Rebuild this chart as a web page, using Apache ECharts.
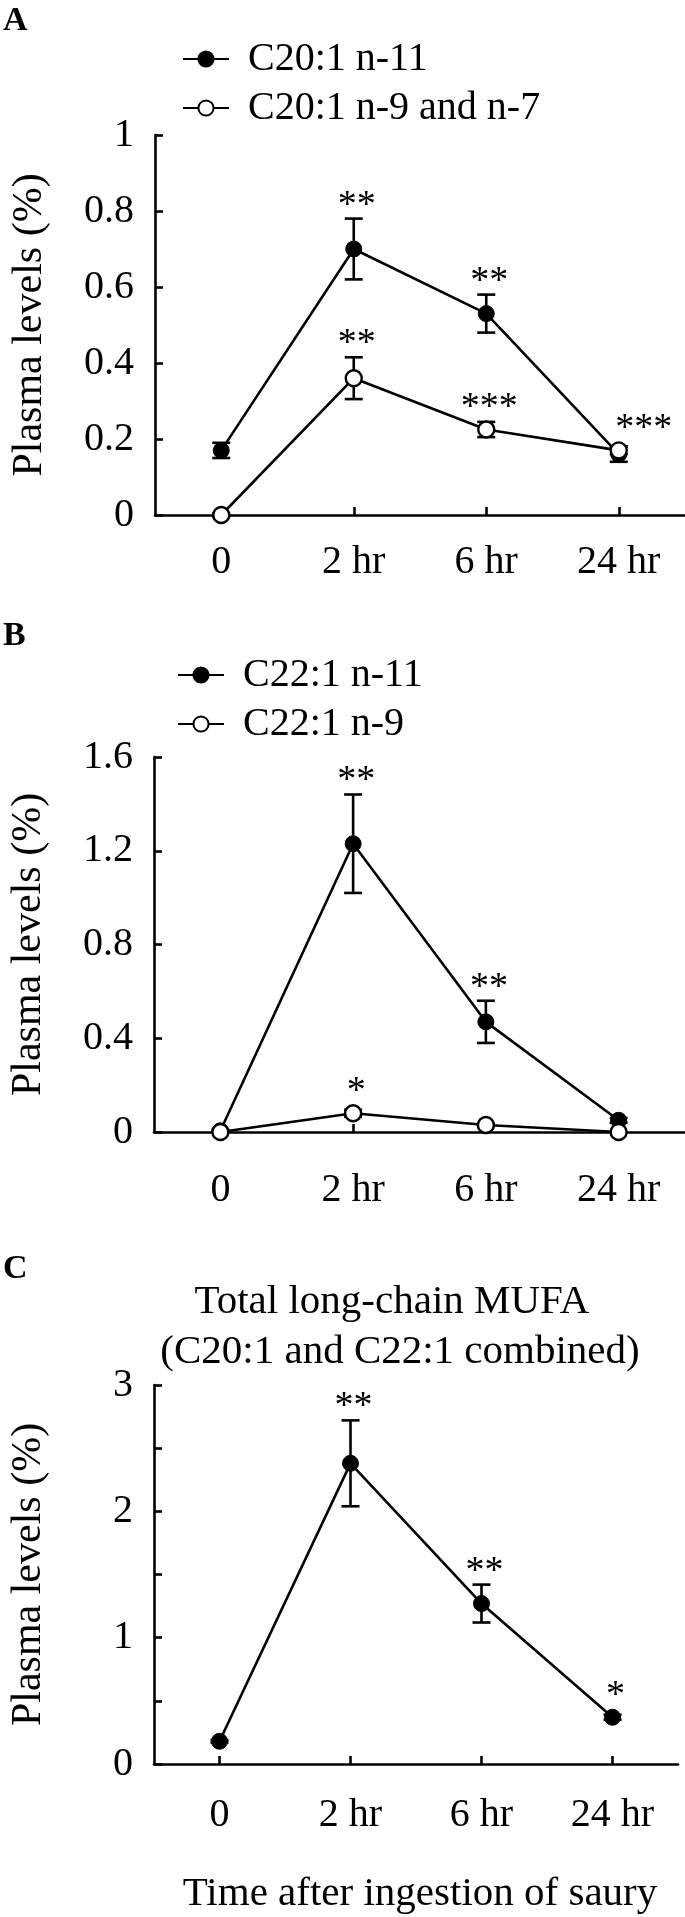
<!DOCTYPE html>
<html>
<head>
<meta charset="utf-8">
<script src="https://cdn.jsdelivr.net/npm/echarts@6/dist/echarts.min.js"></script>
<style>
html,body{margin:0;padding:0;background:#fff;}
#chart{width:685px;height:1917px;}
</style>
</head>
<body>
<div id="chart"></div>
<script>
// ---------------- DATA ----------------
const categories = ['0', '2 hr', '6 hr', '24 hr'];

// Panel A
const aN11Name = 'C20:1 n-11';
const aN11Mean = [0.17, 0.70, 0.53, 0.16];
const aN11Err  = [0.02, 0.08, 0.05, 0.02];
const aN11Sig  = ['', '**', '**', ''];
const aN9Name  = 'C20:1 n-9 and n-7';
const aN9Mean  = [0.00, 0.36, 0.225, 0.17];
const aN9Err   = [0.005, 0.055, 0.02, 0.01];
const aN9Sig   = ['', '**', '***', '***'];
const aTicks   = [0, 0.2, 0.4, 0.6, 0.8, 1];

// Panel B
const bN11Name = 'C22:1 n-11';
const bN11Mean = [0.005, 1.23, 0.47, 0.05];
const bN11Err  = [0.005, 0.21, 0.09, 0.01];
const bN11Sig  = ['', '**', '**', ''];
const bN9Name  = 'C22:1 n-9';
const bN9Mean  = [0.0, 0.08, 0.03, 0.0];
const bN9Err   = [0.0, 0.015, 0.005, 0.0];
const bN9Sig   = ['', '*', '', ''];
const bTicks   = [0, 0.4, 0.8, 1.2, 1.6];

// Panel C
const cName  = 'Total long-chain MUFA';
const cMean  = [0.18, 2.38, 1.27, 0.37];
const cErr   = [0.01, 0.34, 0.15, 0.02];
const cSig   = ['', '**', '**', '*'];
const cTicks = [0, 1, 2, 3];

const yTitle = 'Plasma levels (%)';
const cTitle1 = 'Total long-chain MUFA';
const cTitle2 = '(C20:1 and C22:1 combined)';
const xTitle = 'Time after ingestion of saury';

// ---------------- STYLE ----------------
const FONT = "'Liberation Serif', 'Times New Roman', Times, serif";
const LW = 2.6;
const SYM = 16;
const FS = 40;

function lineSeries(gi, name, mean, filled) {
  return {
    type: 'line', name: name, xAxisIndex: gi, yAxisIndex: gi,
    data: mean, symbol: 'circle', symbolSize: SYM, showSymbol: true,
    clip: false, z: 3,
    lineStyle: { color: '#000', width: LW },
    itemStyle: filled ? { color: '#000', borderColor: '#000', borderWidth: 1 }
                      : { color: '#fff', borderColor: '#000', borderWidth: 2.4 },
    emphasis: { disabled: true }
  };
}
function errSeries(gi, mean, err) {
  return {
    type: 'custom', xAxisIndex: gi, yAxisIndex: gi, z: 2, clip: false,
    data: mean.map((m, i) => [i, m, err[i]]),
    encode: { x: 0, y: 1 },
    renderItem: function (params, api) {
      const x = api.value(0), m = api.value(1), e = api.value(2);
      if (!e) return null;
      const t = api.coord([x, m + e]);
      const b = api.coord([x, m - e]);
      const hw = 9;
      const st = { stroke: '#000', lineWidth: LW };
      return { type: 'group', children: [
        { type: 'line', shape: { x1: t[0], y1: t[1], x2: b[0], y2: b[1] }, style: st },
        { type: 'line', shape: { x1: t[0] - hw, y1: t[1], x2: t[0] + hw, y2: t[1] }, style: st },
        { type: 'line', shape: { x1: b[0] - hw, y1: b[1], x2: b[0] + hw, y2: b[1] }, style: st }
      ]};
    }
  };
}
function sigSeries(gi, mean, err, sig, shifts) {
  return {
    type: 'custom', xAxisIndex: gi, yAxisIndex: gi, z: 5, clip: false,
    data: mean.map((m, i) => [i, m, err[i]]),
    encode: { x: 0, y: 1 },
    renderItem: function (params, api) {
      const label = sig[params.dataIndex];
      if (!label) return null;
      const x = api.value(0), m = api.value(1), e = api.value(2);
      const p = api.coord([x, m]);
      const top = Math.min(api.coord([x, m + e])[1], p[1] - SYM / 2);
      const dx = (shifts && shifts[params.dataIndex]) || 0;
      return { type: 'text', x: p[0] + 3 + dx, y: top - 13,
        style: { text: label, fontSize: 38, fontFamily: FONT, fill: '#000',
                 align: 'center', verticalAlign: 'middle' } };
    }
  };
}

function xAxis(gi, margin) {
  return {
    type: 'category', gridIndex: gi, data: categories, boundaryGap: true,
    axisLine: { lineStyle: { color: '#000', width: LW } },
    axisTick: { show: true, inside: true, length: 8, alignWithLabel: true,
                lineStyle: { color: '#000', width: LW } },
    axisLabel: { fontSize: FS, fontFamily: FONT, color: '#000', margin: margin },
    splitLine: { show: false }
  };
}
function yAxis(gi, ticks, interval, fmt) {
  return {
    type: 'value', gridIndex: gi, min: ticks[0], max: ticks[ticks.length - 1],
    interval: interval,
    name: yTitle, nameLocation: 'middle', nameGap: 104,
    nameTextStyle: { fontSize: 42, fontFamily: FONT, color: '#000' },
    axisLine: { show: true, lineStyle: { color: '#000', width: LW } },
    axisTick: { show: true, inside: true, length: 8, lineStyle: { color: '#000', width: LW } },
    axisLabel: { fontSize: FS, fontFamily: FONT, color: '#000', margin: 21,
                 formatter: fmt || null },
    splitLine: { show: false }
  };
}

function legend(left, top, names) {
  return {
    orient: 'vertical', left: left, top: top, data: names,
    itemWidth: 46, itemHeight: 19, itemGap: 7, selectedMode: false,
    textStyle: { fontSize: FS, fontFamily: FONT, color: '#000', lineHeight: 42,
                 padding: [0, 0, 0, 14] }
  };
}

const chart = echarts.init(document.getElementById('chart'), null, { renderer: 'canvas' });
const option = {
  backgroundColor: '#fff',
  animation: false,
  grid: [
    { left: 155, top: 135, width: 530, height: 380 },
    { left: 153, top: 757, width: 532, height: 375 },
    { left: 149, top: 1385, width: 529, height: 379 }
  ],
  xAxis: [xAxis(0, 27), xAxis(1, 38), xAxis(2, 31)],
  yAxis: [
    yAxis(0, aTicks, 0.2),
    yAxis(1, bTicks, 0.4),
    yAxis(2, cTicks, 0.5, function (v) { return Math.abs(v - Math.round(v)) < 1e-9 ? String(Math.round(v)) : ''; })
  ],
  legend: [
    legend(177, 33, [aN11Name, aN9Name]),
    legend(172, 649, [bN11Name, bN9Name])
  ],
  graphic: [
    { type: 'text', left: 3, top: 4, style: { text: 'A', fontSize: 34, fontWeight: 'bold', fontFamily: FONT, fill: '#000' } },
    { type: 'text', left: 3, top: 619, style: { text: 'B', fontSize: 34, fontWeight: 'bold', fontFamily: FONT, fill: '#000' } },
    { type: 'text', left: 3, top: 1252, style: { text: 'C', fontSize: 34, fontWeight: 'bold', fontFamily: FONT, fill: '#000' } },
    { type: 'text', x: 392, y: 1302, style: { text: cTitle1, fontSize: 41, fontFamily: FONT, fill: '#000', align: 'center', verticalAlign: 'middle' } },
    { type: 'text', x: 400, y: 1352, style: { text: cTitle2, fontSize: 41, fontFamily: FONT, fill: '#000', align: 'center', verticalAlign: 'middle' } },
    { type: 'text', x: 420, y: 1894, style: { text: xTitle, fontSize: 41, fontFamily: FONT, fill: '#000', align: 'center', verticalAlign: 'middle' } }
  ],
  series: [
    errSeries(0, aN11Mean, aN11Err),
    errSeries(0, aN9Mean, aN9Err),
    lineSeries(0, aN11Name, aN11Mean, true),
    lineSeries(0, aN9Name, aN9Mean, false),
    sigSeries(0, aN11Mean, aN11Err, aN11Sig),
    sigSeries(0, aN9Mean, aN9Err, aN9Sig, [0, 0, 0, 22]),

    errSeries(1, bN11Mean, bN11Err),
    errSeries(1, bN9Mean, bN9Err),
    lineSeries(1, bN11Name, bN11Mean, true),
    lineSeries(1, bN9Name, bN9Mean, false),
    sigSeries(1, bN11Mean, bN11Err, bN11Sig),
    sigSeries(1, bN9Mean, bN9Err, bN9Sig),

    errSeries(2, cMean, cErr),
    lineSeries(2, cName, cMean, true),
    sigSeries(2, cMean, cErr, cSig)
  ]
};
chart.setOption(option);
</script>
</body>
</html>
